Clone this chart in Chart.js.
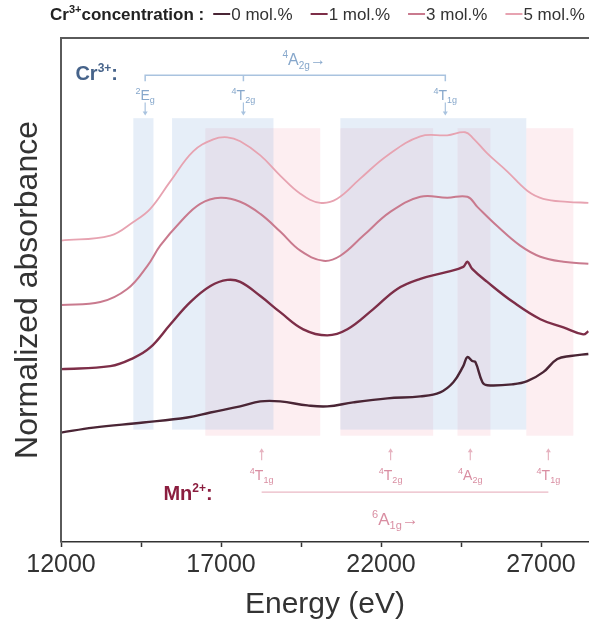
<!DOCTYPE html>
<html>
<head>
<meta charset="utf-8">
<script src="https://cdn.jsdelivr.net/npm/chart.js@4.4.1/dist/chart.umd.min.js"></script>
<style>
  html, body { margin: 0; padding: 0; background: #fff; overflow: hidden; }
  #wrap { width: 589px; height: 623px; }
</style>
</head>
<body>
<div id="wrap"><canvas id="chart" width="589" height="623"></canvas></div>
<script>
const FONT = '"Liberation Sans", Arial, Helvetica, sans-serif';

// series (energy in eV, normalized absorbance with vertical offset)
const seriesLabels = ["0 mol.%", "1 mol.%", "3 mol.%", "5 mol.%"];
const seriesColors = ["#4a2535", "#7d2e48", "#c97a8e", "#e7a3b1"];
const seriesWidths = [2.4, 2.4, 2, 1.8];

const energy0 = [12000, 13010, 14570, 15950, 16670, 17600, 18230, 18850, 19700, 20320, 21130, 22200, 23230, 23850, 24260, 24570, 24700, 24850, 24950, 25170, 25320, 26130, 26570, 27070, 27510, 27920, 28480];
const abs0 = [21.7, 22.7, 23.7, 24.7, 25.7, 26.9, 27.9, 27.9, 27.1, 26.9, 27.7, 28.5, 28.9, 29.7, 31.7, 34.9, 36.7, 35.9, 35.7, 31.7, 31.1, 31.3, 31.9, 33.7, 36.3, 36.9, 37.3];

const energy1 = [12000, 13540, 14260, 14790, 15420, 16040, 16670, 17200, 17600, 18230, 18850, 19570, 20320, 20950, 21760, 22510, 23230, 24070, 24570, 24700, 24850, 25320, 26130, 26980, 27700, 28320, 28480];
const abs1 = [34.3, 34.9, 36.5, 38.6, 43.2, 47.6, 50.8, 52.0, 51.6, 48.8, 45.6, 42.2, 41.0, 42.2, 46.2, 50.2, 52.2, 53.6, 54.6, 55.6, 54.2, 51.6, 47.6, 44.2, 42.6, 41.2, 41.8];

const energy3 = [12000, 13230, 14070, 14700, 15100, 15730, 16350, 16980, 17600, 18230, 18850, 19480, 20200, 20730, 21450, 22290, 23230, 24070, 24700, 25010, 25630, 26350, 26980, 27700, 28480];
const abs3 = [47.0, 47.6, 50.2, 54.8, 58.8, 63.5, 67.1, 68.3, 67.5, 65.1, 61.6, 57.8, 55.8, 56.8, 60.8, 65.5, 68.5, 68.3, 68.5, 66.5, 62.7, 58.8, 56.6, 55.6, 55.2];

const energy5 = [12000, 13540, 14260, 14790, 15410, 16130, 16760, 17200, 17600, 18230, 18850, 19480, 20100, 20630, 21350, 22200, 23230, 24070, 24630, 24880, 25320, 25950, 26570, 27070, 27820, 28480];
const abs5 = [59.8, 60.8, 63.5, 66.1, 71.5, 77.5, 79.9, 80.3, 79.5, 76.7, 72.7, 69.1, 67.3, 68.1, 72.1, 76.7, 80.5, 80.7, 81.3, 80.1, 77.1, 73.5, 69.7, 68.1, 67.5, 67.3];

const energies = [energy0, energy1, energy3, energy5];
const absorbances = [abs0, abs1, abs3, abs5];

// x axis ticks
const tickValues = [12000, 14500, 17000, 19500, 22000, 24500, 27000];
const tickLabels = ["12000", "", "17000", "", "22000", "", "27000"];

// shaded transition bands
const crBandStart = [14260, 15470, 20730];
const crBandEnd = [14890, 18640, 26540];
const crBandY = [22.3, 84.1];
const mnBandStart = [16510, 20730, 24390, 26540];
const mnBandEnd = [20100, 23630, 25420, 28010];
const mnBandY = [21.1, 82.1];

// transition labels
const crLevelE = [14630, 17700, 24010];
const crLevelText = [[["2", "sup"], ["E"], ["g", "sub"]], [["4", "sup"], ["T"], ["2g", "sub"]], [["4", "sup"], ["T"], ["1g", "sub"]]];
const mnLevelE = [18270, 22300, 24790, 27230];
const mnLevelText = [[["4", "sup"], ["T"], ["1g", "sub"]], [["4", "sup"], ["T"], ["2g", "sub"]], [["4", "sup"], ["A"], ["2g", "sub"]], [["4", "sup"], ["T"], ["1g", "sub"]]];

const crColor = "#86a7cb";
const mnColor = "#d98ea2";

function drawRich(ctx, parts, x, y, size, color, weight, align) {
  const fonts = parts.map(p => `${weight} ${p[1] ? Math.round(size * 0.62) : size}px ${FONT}`);
  let w = 0;
  parts.forEach((p, i) => { ctx.font = fonts[i]; w += ctx.measureText(p[0]).width; });
  let cx = align === "center" ? x - w / 2 : x;
  ctx.fillStyle = color;
  ctx.textAlign = "left";
  ctx.textBaseline = "alphabetic";
  const base = y + size * 0.36;
  parts.forEach((p, i) => {
    ctx.font = fonts[i];
    const dy = p[1] === "sup" ? -size * 0.42 : p[1] === "sub" ? size * 0.24 : 0;
    ctx.fillText(p[0], cx, base + dy);
    cx += ctx.measureText(p[0]).width;
  });
  return w;
}

function arrow(ctx, x, y1, y2, color) {
  const dir = y2 > y1 ? 1 : -1;
  ctx.strokeStyle = color;
  ctx.fillStyle = color;
  ctx.lineWidth = 1.2;
  ctx.beginPath();
  ctx.moveTo(x, y1);
  ctx.lineTo(x, y2 - dir * 3);
  ctx.stroke();
  ctx.beginPath();
  ctx.moveTo(x, y2);
  ctx.lineTo(x - 2.5, y2 - dir * 4);
  ctx.lineTo(x + 2.5, y2 - dir * 4);
  ctx.closePath();
  ctx.fill();
}

const bandsPlugin = {
  id: "bands",
  beforeDatasetsDraw(chart) {
    const { ctx, chartArea, scales: { x, y } } = chart;
    ctx.save();
    ctx.beginPath();
    ctx.rect(chartArea.left, chartArea.top, chartArea.right - chartArea.left, chartArea.bottom - chartArea.top);
    ctx.clip();
    ctx.fillStyle = "rgba(240, 150, 170, 0.16)";
    mnBandStart.forEach((s, i) => {
      const x1 = x.getPixelForValue(s), x2 = x.getPixelForValue(mnBandEnd[i]);
      const y1 = y.getPixelForValue(mnBandY[1]), y2 = y.getPixelForValue(mnBandY[0]);
      ctx.fillRect(x1, y1, x2 - x1, y2 - y1);
    });
    ctx.fillStyle = "rgba(150, 185, 225, 0.24)";
    crBandStart.forEach((s, i) => {
      const x1 = x.getPixelForValue(s), x2 = x.getPixelForValue(crBandEnd[i]);
      const y1 = y.getPixelForValue(crBandY[1]), y2 = y.getPixelForValue(crBandY[0]);
      ctx.fillRect(x1, y1, x2 - x1, y2 - y1);
    });
    ctx.restore();
  },
  afterDatasetsDraw(chart) {
    const { ctx, chartArea, scales: { x, y } } = chart;
    ctx.save();
    // frame top and left
    ctx.strokeStyle = "#5a5a5a";
    ctx.lineWidth = 2;
    ctx.beginPath();
    ctx.moveTo(chartArea.left, chartArea.bottom);
    ctx.lineTo(chartArea.left, chartArea.top);
    ctx.lineTo(chartArea.right + 2, chartArea.top);
    ctx.stroke();

    // Cr3+ transitions
    drawRich(ctx, [["Cr"], ["3+", "sup"], [":"]], x.getPixelForValue(12450), y.getPixelForValue(93.0), 20, "#46638a", "bold", "left");
    drawRich(ctx, [["4", "sup"], ["A"], ["2g", "sub"], ["\u2192"]], x.getPixelForValue(19600), y.getPixelForValue(95.8), 16, crColor, "normal", "center");
    const byCr = y.getPixelForValue(92.6), tyCr = y.getPixelForValue(91.4);
    ctx.strokeStyle = "#a9c3df";
    ctx.lineWidth = 1.5;
    ctx.beginPath();
    ctx.moveTo(x.getPixelForValue(crLevelE[0]), tyCr);
    ctx.lineTo(x.getPixelForValue(crLevelE[0]), byCr);
    ctx.lineTo(x.getPixelForValue(crLevelE[2]), byCr);
    ctx.lineTo(x.getPixelForValue(crLevelE[2]), tyCr);
    ctx.moveTo(x.getPixelForValue(crLevelE[1]), byCr);
    ctx.lineTo(x.getPixelForValue(crLevelE[1]), tyCr);
    ctx.stroke();
    crLevelE.forEach((e, i) => {
      const px = x.getPixelForValue(e);
      drawRich(ctx, crLevelText[i], px, y.getPixelForValue(88.7), 14, crColor, "normal", "center");
      arrow(ctx, px, y.getPixelForValue(87.2), y.getPixelForValue(84.6), "#a9c3df");
    });

    // Mn2+ transitions
    drawRich(ctx, [["Mn"], ["2+", "sup"], [":"]], x.getPixelForValue(15200), y.getPixelForValue(9.7), 20, "#8b1e3f", "bold", "left");
    mnLevelE.forEach((e, i) => {
      const px = x.getPixelForValue(e);
      arrow(ctx, px, y.getPixelForValue(16.2), y.getPixelForValue(18.6), "#e6b3c0");
      drawRich(ctx, mnLevelText[i], px, y.getPixelForValue(13.4), 14, mnColor, "normal", "center");
    });
    const byMn = y.getPixelForValue(9.9);
    ctx.strokeStyle = "#eab8c4";
    ctx.lineWidth = 1.3;
    ctx.beginPath();
    ctx.moveTo(x.getPixelForValue(mnLevelE[0]), byMn);
    ctx.lineTo(x.getPixelForValue(mnLevelE[3]), byMn);
    ctx.stroke();
    drawRich(ctx, [["6", "sup"], ["A"], ["1g", "sub"], ["\u2192"]], x.getPixelForValue(22450), y.getPixelForValue(4.6), 17, mnColor, "normal", "center");

    // legend
    let lx = 50;
    const ly = 14;
    lx += drawRich(ctx, [["Cr"], ["3+", "sup"], ["concentration :"]], lx, ly, 17, "#222", "bold", "left");
    lx += 9;
    seriesLabels.forEach((lab, i) => {
      ctx.strokeStyle = seriesColors[i];
      ctx.lineWidth = 2;
      ctx.beginPath();
      ctx.moveTo(lx, ly);
      ctx.lineTo(lx + 17, ly);
      ctx.stroke();
      lx += 18;
      lx += drawRich(ctx, [[lab]], lx, ly, 17, "#333", "normal", "left");
      lx += 18;
    });
    ctx.restore();
  }
};

new Chart(document.getElementById("chart"), {
  type: "line",
  data: {
    datasets: seriesLabels.map((lab, i) => ({
      label: lab,
      data: energies[i].map((e, j) => ({ x: e, y: absorbances[i][j] })),
      borderColor: seriesColors[i],
      borderWidth: seriesWidths[i],
      pointRadius: 0,
      fill: false,
      tension: 0.4
    }))
  },
  options: {
    responsive: false,
    animation: false,
    devicePixelRatio: 1,
    layout: { padding: { top: 38, left: 0, right: 0, bottom: 0 } },
    plugins: { legend: { display: false }, tooltip: { enabled: false } },
    scales: {
      x: {
        type: "linear",
        min: 12000,
        max: 28500,
        afterBuildTicks: s => { s.ticks = tickValues.map(v => ({ value: v })); },
        afterFit: s => { s.height = 81; },
        ticks: {
          autoSkip: false,
          maxRotation: 0,
          padding: 3,
          color: "#333",
          font: { family: FONT, size: 25 },
          callback: v => tickLabels[tickValues.indexOf(v)]
        },
        grid: { drawOnChartArea: false, drawTicks: true, tickLength: 5, tickColor: "#333", tickWidth: 1.5 },
        border: { color: "#333", width: 1.5 },
        title: { display: true, text: "Energy (eV)", color: "#333", font: { family: FONT, size: 30 }, padding: { top: 0, bottom: 0 } }
      },
      y: {
        min: 0,
        max: 100,
        afterFit: s => { s.width = 61; },
        ticks: { display: false },
        grid: { display: false },
        border: { display: false },
        title: { display: true, text: "Normalized absorbance", color: "#333", font: { family: FONT, size: 32 }, padding: { top: 9, bottom: 0 } }
      }
    }
  },
  plugins: [bandsPlugin]
});
</script>
</body>
</html>
